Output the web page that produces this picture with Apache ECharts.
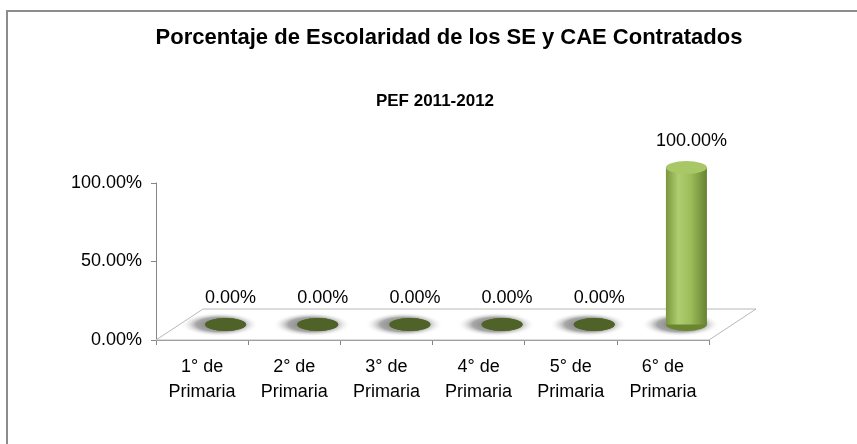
<!DOCTYPE html>
<html>
<head>
<meta charset="utf-8">
<script src="https://cdn.jsdelivr.net/npm/echarts@6/dist/echarts.min.js"></script>
<style>
  html, body { margin: 0; padding: 0; background: #fff; }
  #chart { width: 857px; height: 444px; }
</style>
</head>
<body>
<div id="chart"></div>
<script>
// datos
var categories = ['1° de\nPrimaria', '2° de\nPrimaria', '3° de\nPrimaria', '4° de\nPrimaria', '5° de\nPrimaria', '6° de\nPrimaria'];
var values = [0, 0, 0, 0, 0, 1];
var yTicks = [0, 0.5, 1];

var font = '"Liberation Sans", Arial, sans-serif';
// grid principal (ejes) y grid desplazado para los cilindros (efecto 3D)
var g = { left: 156, right: 148, top: 183, bottom: 104 };
var depth = { dx: 47, dy: 31 };
var g2 = {
  left: g.left + depth.dx / 2,
  right: g.right - depth.dx / 2,
  top: g.top - depth.dy / 2,
  bottom: g.bottom + depth.dy / 2
};

var W = 857, H = 444;
var floorY = H - g.bottom;
var floor = [
  [g.left, floorY],
  [W - g.right, floorY],
  [W - g.right + depth.dx, floorY - depth.dy],
  [g.left + depth.dx, floorY - depth.dy]
];

var bodyColor = new echarts.graphic.LinearGradient(0, 0, 1, 0, [
  { offset: 0, color: '#7a963d' },
  { offset: 0.3, color: '#aecd6f' },
  { offset: 0.6, color: '#9dbd5b' },
  { offset: 1, color: '#66822f' }
]);

var shadowColor = new echarts.graphic.RadialGradient(0.5, 0.5, 0.5, [
  { offset: 0, color: 'rgba(90,90,90,0.9)' },
  { offset: 0.6, color: 'rgba(120,120,120,0.65)' },
  { offset: 1, color: 'rgba(255,255,255,0)' }
]);

var chart = echarts.init(document.getElementById('chart'));
var option = {
  animation: false,
  backgroundColor: '#fff',
  title: [{
    text: 'Porcentaje de Escolaridad de los SE y CAE Contratados',
    left: 444,
    top: 22,
    textAlign: 'center',
    textStyle: { fontFamily: font, fontSize: 22, fontWeight: 'bold', color: '#000' }
  }, {
    text: 'PEF 2011-2012',
    left: 430,
    top: 88,
    textAlign: 'center',
    textStyle: { fontFamily: font, fontSize: 17, fontWeight: 'bold', color: '#000' }
  }],
  graphic: [{
    type: 'rect',
    shape: { x: 7, y: 11, width: 1000, height: 1000 },
    style: { fill: 'none', stroke: '#8c8c8c', lineWidth: 2 },
    z: 0
  }, {
    type: 'polygon',
    shape: { points: floor },
    style: { fill: '#fff', stroke: '#b8b8b8', lineWidth: 1 },
    z: 1
  }],
  grid: [
    { left: g.left, right: g.right, top: g.top, bottom: g.bottom },
    { left: g2.left, right: g2.right, top: g2.top, bottom: g2.bottom }
  ],
  xAxis: [{
    type: 'category',
    gridIndex: 0,
    data: categories,
    axisLine: { lineStyle: { color: '#868686' } },
    axisTick: { show: true, length: 5, lineStyle: { color: '#868686' } },
    axisLabel: { fontFamily: font, fontSize: 18, color: '#000', lineHeight: 25, margin: 15, interval: 0 }
  }, {
    type: 'category',
    gridIndex: 1,
    data: categories,
    show: false
  }],
  yAxis: [{
    type: 'value',
    gridIndex: 0,
    min: 0,
    max: 1,
    interval: 0.5,
    axisLine: { show: true, lineStyle: { color: '#868686' } },
    axisTick: { show: true, length: 5, lineStyle: { color: '#868686' } },
    splitLine: { show: false },
    axisLabel: {
      fontFamily: font, fontSize: 18, color: '#000', margin: 14,
      formatter: function (v) { return (v * 100).toFixed(2) + '%'; }
    }
  }, {
    type: 'value',
    gridIndex: 1,
    min: 0,
    max: 1,
    show: false
  }],
  series: [{
    // sombra difusa sobre el piso
    type: 'pictorialBar',
    xAxisIndex: 1,
    yAxisIndex: 1,
    symbol: 'circle',
    symbolSize: [78, 24],
    symbolOffset: [-6, '50%'],
    itemStyle: { color: shadowColor },
    silent: true,
    data: values,
    z: 2
  }, {
    // base
    type: 'pictorialBar',
    xAxisIndex: 1,
    yAxisIndex: 1,
    symbol: 'circle',
    symbolSize: [41, 13],
    symbolOffset: [0, '50%'],
    data: values.map(function (v) {
      return { value: v, itemStyle: { color: v > 0 ? '#6a8631' : '#4f6228' } };
    }),
    z: 3
  }, {
    type: 'bar',
    xAxisIndex: 1,
    yAxisIndex: 1,
    barWidth: 41,
    itemStyle: { color: bodyColor },
    label: {
      show: true,
      position: 'top',
      distance: 17,
      offset: [5, 0],
      fontFamily: font,
      fontSize: 18,
      color: '#000',
      formatter: function (p) { return (p.value * 100).toFixed(2) + '%'; }
    },
    data: values,
    z: 4
  }, {
    // tapa superior
    type: 'pictorialBar',
    xAxisIndex: 1,
    yAxisIndex: 1,
    symbol: 'circle',
    symbolSize: [41, 13],
    symbolPosition: 'end',
    symbolOffset: [0, '-50%'],
    data: values.map(function (v) {
      return { value: v, itemStyle: { color: v > 0 ? '#a8c867' : '#4f6228' } };
    }),
    z: 5
  }]
};
chart.setOption(option);
</script>
</body>
</html>
